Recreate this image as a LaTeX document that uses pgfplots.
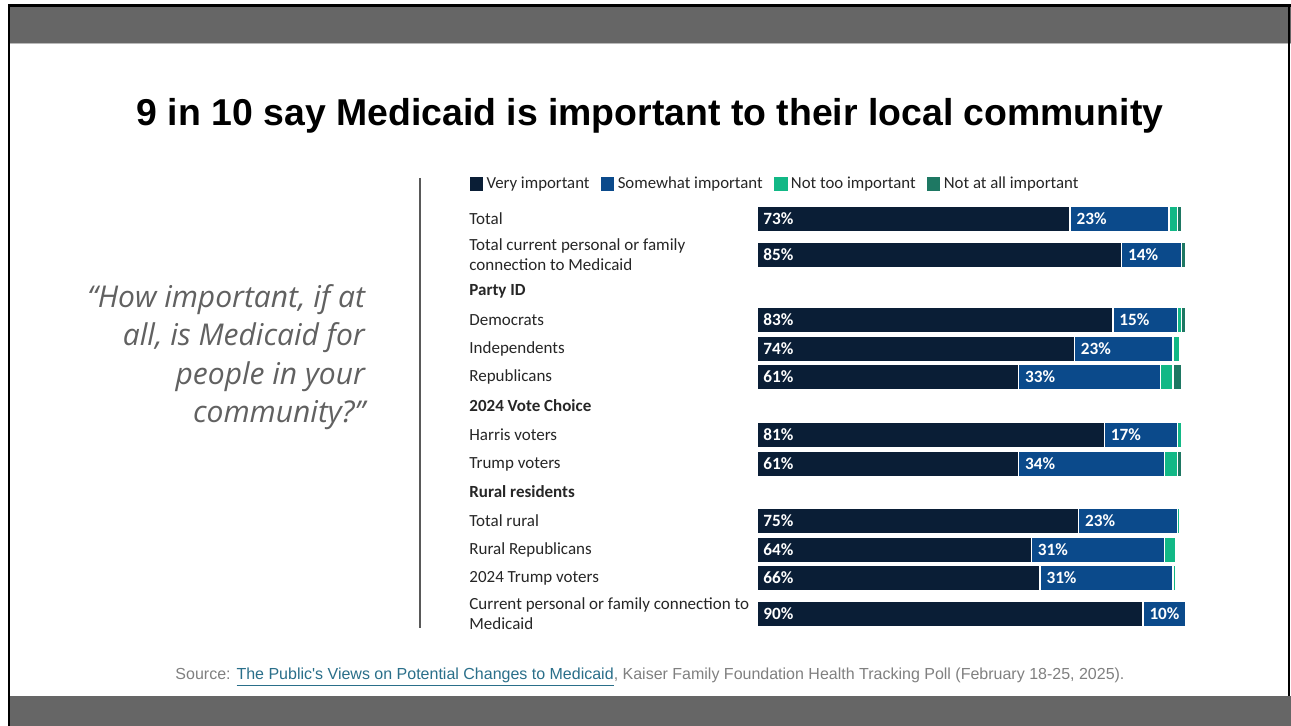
\documentclass[border=0pt]{standalone}
\usepackage{pgfplots}
\pgfplotsset{compat=1.18}
\usepackage{pgfplotstable}
\usepackage{fontspec}
\setmainfont{Carlito}
\newfontfamily\arialfont{Liberation Sans}
\newfontfamily\quotefont{Open Sans}

\definecolor{very}{HTML}{0A1E36}
\definecolor{somewhat}{HTML}{0B4A8B}
\definecolor{nottoo}{HTML}{12B886}
\definecolor{notatall}{HTML}{1E7863}
\definecolor{band}{HTML}{666666}
\definecolor{linkc}{HTML}{2A6F8A}

% y = pixel row of each bar centre
\pgfplotstableread{
y   very somewhat nottoo notatall
219 73   23       2      1
255 85   14       0      1
320 83   15       1      1
349 74   23       1.5    0
377 61   33       3      2
435 81   17       1      0
464 61   34       3      1
521 75   23       0.5    0
550 64   31       2.5    0
578 66   31       0.6    0
614 90   10       0      0
}\medicaid

\pgfplotsset{
  slide/.style={
    at={(378.5pt,-100pt)}, anchor=north west,
    scale only axis, width=214.5pt, height=216pt,
    xmin=0, xmax=100, ymin=200, ymax=632, y dir=reverse,
    axis line style={draw=none}, tick style={draw=none},
    xtick=\empty, clip=false},
}

\begin{document}
\begin{tikzpicture}
\begin{scope}[x=0.5pt,y=-0.5pt]
\useasboundingbox (0,0) rectangle (1291,726);
\fill[white] (0,0) rectangle (1291,726);
\fill[band] (8,5) rectangle (1291,43);
\fill[gray!55] (8,43) rectangle (1291,44.5);
\fill[band] (8,696) rectangle (1291,726);
\draw[black,line width=1.2pt] (8,5.5) -- (1291,5.5);
\draw[black,line width=1.2pt] (9,5) -- (9,726);
\draw[black,line width=0.8pt] (1289,5) -- (1289,696);

\node[font=\arialfont\bfseries\fontsize{18.7}{22}\selectfont] at (650,116)
  {9 in 10 say Medicaid is important to their local community};

\node[font=\quotefont\itshape\fontsize{15}{19.2}\selectfont, text=black!62,
      align=right, anchor=east] at (372,357)
  {“How important, if at\\all, is Medicaid for\\people in your\\community?”};

\draw[black!65,line width=0.7pt] (420,178) -- (420,628);

\node[font=\arialfont\fontsize{8}{10}\selectfont, text=black!50] at (650,677)
  {Source: \textcolor{linkc}{\underline{The Public's Views on Potential Changes to Medicaid}}, Kaiser Family Foundation Health Tracking Poll (February 18-25, 2025).};
\end{scope}

% bars
\begin{axis}[
  slide,
  xbar stacked, bar width=12.3pt,
  ytick={219,255,291,320,349,377,406,435,464,492,521,550,578,614},
  yticklabels={Total,{Total current personal or family\\connection to Medicaid},\textbf{Party ID},Democrats,Independents,Republicans,\textbf{2024 Vote Choice},Harris voters,Trump voters,\textbf{Rural residents},Total rural,Rural Republicans,2024 Trump voters,{Current personal or family connection to\\Medicaid}},
  yticklabel style={anchor=west, xshift=-144pt, align=left, inner sep=0pt,
    font=\fontsize{8.5}{10}\selectfont, text=black!85},
  legend columns=-1,
  legend style={at={(-0.6737,1.037)}, anchor=west, draw=none, fill=none,
    inner sep=0pt, font=\fontsize{8.4}{10}\selectfont, text=black!85,
    /tikz/every even column/.append style={column sep=4pt},
    nodes={inner sep=1pt}},
  legend image code/.code={\fill (0pt,-3.8pt) rectangle (7.4pt,3.8pt);},
  seg/.style={fill=#1, draw=white, line width=0.7pt},
]
\addplot[seg=very] table[x=very, y=y] {\medicaid};
\addplot[seg=somewhat] table[x=somewhat, y=y] {\medicaid};
\addplot[seg=nottoo] table[x=nottoo, y=y] {\medicaid};
\addplot[seg=notatall] table[x=notatall, y=y] {\medicaid};
\legend{Very important, Somewhat important, Not too important, Not at all important}
\end{axis}

% value labels at the left end of the first two segments
\begin{axis}[
  slide, ytick=\empty,
  lab/.style={only marks, mark=none, point meta=explicit symbolic,
    nodes near coords={\hspace{3pt}\pgfplotspointmeta\%},
    nodes near coords style={anchor=west, inner sep=0pt, text=white,
      font=\bfseries\fontsize{8.6}{9}\selectfont}},
]
\addplot[lab] table[x expr=0, y=y, meta=very] {\medicaid};
\addplot[lab] table[x=very, y=y, meta=somewhat] {\medicaid};
\end{axis}
\end{tikzpicture}
\end{document}
